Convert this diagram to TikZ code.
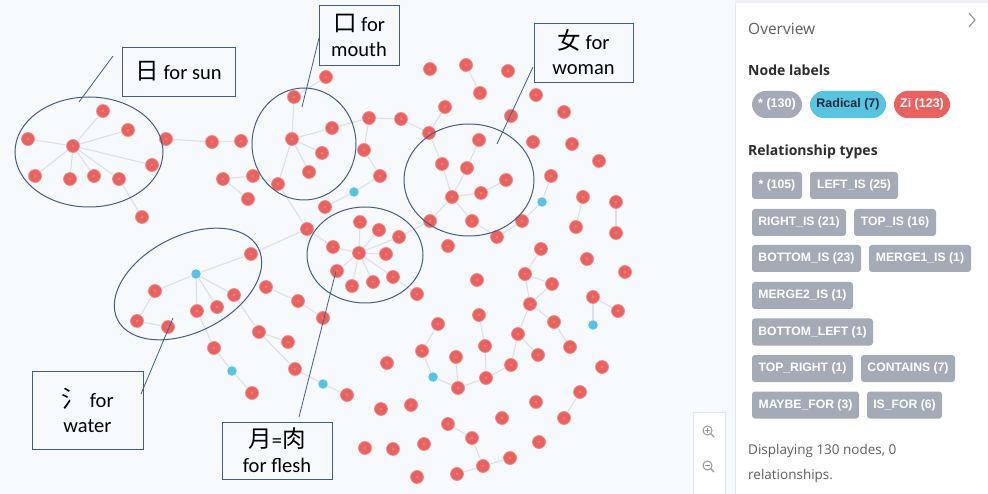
\documentclass[tikz,border=0pt]{standalone}
\usepackage{fontspec}
\setmainfont{Open Sans}
\newfontfamily\annfont{Carlito}
\newfontfamily\cjk{Noto Sans CJK SC}[Scale=1.15]
\newfontfamily\pillfont{Liberation Sans}
\usetikzlibrary{shapes.geometric,calc}
\definecolor{bgc}{RGB}{247,250,253}
\definecolor{zired}{RGB}{233,98,96}
\definecolor{zirim}{RGB}{241,140,138}
\definecolor{radblue}{RGB}{87,196,226}
\definecolor{edgec}{RGB}{220,224,230}
\definecolor{annot}{RGB}{68,92,134}
\definecolor{pillgrey}{RGB}{165,171,182}
\definecolor{txtgrey}{RGB}{95,95,95}
\definecolor{headc}{RGB}{45,45,45}
\definecolor{panelline}{RGB}{226,230,235}
\definecolor{radtext}{RGB}{40,44,56}
\begin{document}
\begin{tikzpicture}[x=1pt,y=-1pt,
  zi/.style={circle, fill=zired, draw=zirim, line width=0.8pt, minimum size=13pt, inner sep=0pt,
    path picture={\fill[white, opacity=0.7] (path picture bounding box.center) circle (0.6pt);}},
  rad/.style={circle, fill=radblue, draw=none, minimum size=9.5pt, inner sep=0pt},
  ed/.style={draw=edgec, line width=1.1pt},
  ann/.style={draw=annot, line width=0.8pt, align=center, font=\annfont\fontsize{20.5}{25}\selectfont, inner sep=0pt},
  ell/.style={ellipse, draw=annot, line width=1pt, inner sep=0pt},
  ptr/.style={draw=annot, line width=0.8pt},
  pill/.style={rounded corners=13.5pt, minimum height=27pt, inner sep=0pt, font=\pillfont\bfseries\fontsize{12.5}{14}\selectfont, text=white},
  rel/.style={rounded corners=3pt, fill=pillgrey, minimum height=27pt, inner sep=0pt, font=\pillfont\bfseries\fontsize{12.2}{14}\selectfont, text=white},
  ptxt/.style={anchor=west, inner sep=0pt}
]
\useasboundingbox (0,0) rectangle (988,494);
\fill[bgc] (0,0) rectangle (988,494);
% panel
\fill[panelline!60] (735,0) rectangle (988,3);
\fill[white] (735,3) rectangle (988,494);
\draw[panelline, line width=0.8pt] (735,3) -- (735,494);

% ---- sun cluster
\node[zi] (s0) at (73,146) {};
\node[zi] (s1) at (103,111) {};
\node[zi] (s2) at (128,130) {};
\node[zi] (s3) at (28,139) {};
\node[zi] (s4) at (35,176) {};
\node[zi] (s5) at (70,179) {};
\node[zi] (s6) at (94,176) {};
\node[zi] (s7) at (119,179) {};
\node[zi] (s8) at (152,165) {};
\node[zi] (s9) at (166,139) {};
\node[zi] (s10) at (142,217) {};
% ---- left middle
\node[zi] (m1) at (212,142) {};
\node[zi] (m2) at (241,141) {};
\node[zi] (m3) at (223,179) {};
\node[zi] (m4) at (253,176) {};
\node[zi] (m5) at (248,199) {};
\node[zi] (m6) at (278,184) {};
% ---- mouth
\node[zi] (k0) at (292,139) {};
\node[zi] (k1) at (294,97) {};
\node[zi] (k2) at (326,77) {};
\node[zi] (k3) at (332,128) {};
\node[zi] (k4) at (322,153) {};
\node[zi] (k5) at (309,172) {};
% ---- upper middle
\node[zi] (u1) at (369,118) {};
\node[zi] (u2) at (401,119) {};
\node[zi] (u3) at (364,150) {};
\node[zi] (u4) at (380,176) {};
\node[rad] (u5) at (354,192) {};
\node[zi] (u6) at (325,207) {};
\node[zi] (u7) at (307,229) {};
\node[zi] (u8) at (430,69) {};
\node[zi] (u9) at (466,65) {};
\node[zi] (u10) at (445,107) {};
\node[zi] (u11) at (429,133) {};
% ---- flesh
\node[zi] (f0) at (359,253) {};
\node[zi] (f1) at (333,247) {};
\node[zi] (f2) at (360,222) {};
\node[zi] (f3) at (379,230) {};
\node[zi] (f4) at (399,237) {};
\node[zi] (f5) at (386,254) {};
\node[zi] (f6) at (337,271) {};
\node[zi] (f7) at (352,286) {};
\node[zi] (f8) at (373,282) {};
\node[zi] (f9) at (393,277) {};
\node[zi] (f10) at (417,294) {};
\node[zi] (f11) at (448,246) {};
% ---- woman
\node[zi] (w1) at (479,140) {};
\node[zi] (w2) at (442,164) {};
\node[zi] (w3) at (467,168) {};
\node[zi] (w4) at (506,180) {};
\node[zi] (w5) at (452,197) {};
\node[zi] (w6) at (481,193) {};
\node[zi] (w7) at (430,221) {};
\node[zi] (w8) at (472,221) {};
\node[zi] (w9) at (522,221) {};
\node[zi] (w10) at (497,237) {};
\node[rad] (w11) at (542,202) {};
\node[zi] (w12) at (551,176) {};
% ---- upper right
\node[zi] (r1) at (508,71) {};
\node[zi] (r2) at (480,93) {};
\node[zi] (r3) at (536,95) {};
\node[zi] (r4) at (511,116) {};
\node[zi] (r5) at (564,112) {};
\node[zi] (r6) at (533,142) {};
\node[zi] (r7) at (572,144) {};
\node[zi] (r8) at (599,161) {};
\node[zi] (r9) at (583,197) {};
\node[zi] (r10) at (576,227) {};
\node[zi] (r11) at (616,202) {};
\node[zi] (r12) at (616,233) {};
\node[zi] (r13) at (541,249) {};
% ---- water
\node[rad] (a0) at (196,274) {};
\node[zi] (a1) at (155,291) {};
\node[zi] (a2) at (137,321) {};
\node[zi] (a3) at (168,327) {};
\node[zi] (a4) at (197,311) {};
\node[zi] (a5) at (217,307) {};
\node[zi] (a6) at (234,295) {};
\node[zi] (a7) at (251,254) {};
\node[zi] (a8) at (266,287) {};
\node[zi] (a9) at (298,301) {};
\node[zi] (a10) at (323,318) {};
\node[zi] (a11) at (259,332) {};
\node[zi] (a12) at (288,342) {};
\node[zi] (a13) at (214,348) {};
\node[rad] (a14) at (232,371) {};
\node[zi] (a15) at (252,393) {};
\node[zi] (a16) at (295,369) {};
\node[rad] (a17) at (323,384) {};
\node[zi] (a18) at (347,395) {};
% ---- bottom right
\node[zi] (b1) at (438,324) {};
\node[zi] (b2) at (479,315) {};
\node[zi] (b3) at (477,280) {};
\node[zi] (b4) at (525,274) {};
\node[zi] (b6) at (552,284) {};
\node[zi] (b7) at (530,304) {};
\node[zi] (b8) at (554,322) {};
\node[zi] (b9) at (570,347) {};
\node[zi] (b10) at (518,334) {};
\node[zi] (b11) at (538,355) {};
\node[zi] (b12) at (511,365) {};
\node[zi] (b13) at (485,346) {};
\node[zi] (b14) at (486,378) {};
\node[zi] (b15) at (458,388) {};
\node[zi] (b16) at (456,357) {};
\node[rad] (b17) at (433,377) {};
\node[zi] (b18) at (422,351) {};
\node[zi] (b19) at (387,363) {};
\node[zi] (b20) at (587,259) {};
\node[zi] (b21) at (625,272) {};
\node[zi] (b22) at (593,297) {};
\node[zi] (b23) at (618,311) {};
\node[rad] (b24) at (593,325) {};
\node[zi] (b25) at (602,367) {};
\node[zi] (b26) at (580,392) {};
\node[zi] (b27) at (564,418) {};
\node[zi] (b28) at (536,402) {};
\node[zi] (b29) at (502,418) {};
\node[zi] (b30) at (539,442) {};
\node[zi] (b31) at (448,424) {};
\node[zi] (b32) at (472,438) {};
\node[zi] (b33) at (483,466) {};
\node[zi] (b34) at (510,458) {};
\node[zi] (b35) at (457,474) {};
\node[zi] (b36) at (417,477) {};
\node[zi] (b37) at (381,409) {};
\node[zi] (b38) at (411,405) {};
\node[zi] (b39) at (365,448) {};
\node[zi] (b40) at (393,449) {};
\node[zi] (b41) at (424,444) {};

% ---- edges
\foreach \p/\q in {s0/s1,s0/s2,s0/s3,s0/s4,s0/s5,s0/s6,s0/s7,s0/s8,s7/s10,s9/m1,m1/m2,m3/m4,m3/m5,m4/m6,
  k0/k1,k1/k2,k0/k3,k0/k4,k0/k5,k0/m6,k3/u1,u1/u3,u1/u2,u2/u11,u11/u10,u11/w2,u3/u4,u4/u5,u5/u6,u7/m6,u7/f1,
  f0/f1,f0/f2,f0/f3,f0/f4,f0/f5,f0/f6,f0/f7,f0/f8,f0/f9,f9/f10,f4/w7,
  w5/w2,w5/w3,w5/w6,w5/w7,w5/w8,w6/w4,w3/w1,w8/w10,w10/w9,w9/w11,w11/w12,
  u9/r2,r9/r10,r11/r12,
  a0/a1,a0/a4,a0/a5,a0/a6,a0/a7,a1/a2,a2/a3,a4/a13,a13/a14,a14/a15,a6/a11,a11/a12,a11/a16,a16/a17,a17/a18,a8/a9,a9/a10,a7/u7,
  r13/b4,b4/b6,b4/b7,b7/b6,b7/b8,b8/b9,b7/b10,b10/b11,b10/b12,b12/b14,b14/b13,b13/b2,b14/b15,b15/b16,b15/b17,b17/b18,b18/b1,
  b22/b23,b22/b24,b26/b27,b31/b32,b32/b33,b33/b34,b33/b35}
  \draw[ed] (\p) -- (\q);

% ---- annotations
\node[ell, minimum width=148pt, minimum height=110pt] (sunE) at (89,152) {};
\node[ell, minimum width=104pt, minimum height=112pt] (mouthE) at (304,144) {};
\node[ell, minimum width=130pt, minimum height=112pt] (womanE) at (469,180) {};
\node[ell, minimum width=116pt, minimum height=96pt] (fleshE) at (365,255) {};
\node[ell, minimum width=158pt, minimum height=96pt, rotate=27] (waterE) at (188,284) {};

\node[ann, minimum width=113pt, minimum height=49pt] (sunB) at (178.5,71.5) {{\cjk 日} for sun};
\node[ann, minimum width=80pt, minimum height=60pt] (mouthB) at (359,35) {{\cjk 口} for\\mouth};
\node[ann, minimum width=99pt, minimum height=59pt] (womanB) at (583.5,52.5) {{\cjk 女} for\\woman};
\node[ann, minimum width=111pt, minimum height=78pt] (waterB) at (87.5,410) {{\cjk 氵}\hspace{5pt}for\\water};
\node[ann, minimum width=110pt, minimum height=57pt] (fleshB) at (277,450.5) {{\cjk 月}={\cjk 肉}\\for flesh};

\coordinate (sunP1) at (113,56);   \coordinate (sunP2) at (79,102);
\coordinate (mouthP1) at (319,38); \coordinate (mouthP2) at (302,107);
\coordinate (womanP1) at (533,67); \coordinate (womanP2) at (497,144);
\coordinate (waterP1) at (141,394); \coordinate (waterP2) at (173,318);
\coordinate (fleshP1) at (299,417); \coordinate (fleshP2) at (336,271);
\draw[ptr] (sunP1) -- (sunP2);
\draw[ptr] (mouthP1) -- (mouthP2);
\draw[ptr] (womanP1) -- (womanP2);
\draw[ptr] (waterP1) -- (waterP2);
\draw[ptr] (fleshP1) -- (fleshP2);

% ---- zoom buttons
\node[draw=panelline, fill=white, line width=0.8pt, minimum width=32pt, minimum height=82pt, inner sep=0pt] (zoomBox) at (709,453) {};
\coordinate (zin) at (707.5,430.5);
\coordinate (zout) at (707.5,465.5);
\draw[gray!80, line width=1pt] (zin) circle (4.5pt);
\draw[gray!80, line width=1.2pt] ($(zin)+(3.2,3.2)$) -- ($(zin)+(6.5,6.5)$);
\draw[gray!80, line width=0.8pt] ($(zin)+(-2.2,0)$) -- ($(zin)+(2.2,0)$) ($(zin)+(0,-2.2)$) -- ($(zin)+(0,2.2)$);
\draw[gray!80, line width=1pt] (zout) circle (4.5pt);
\draw[gray!80, line width=1.2pt] ($(zout)+(3.2,3.2)$) -- ($(zout)+(6.5,6.5)$);
\draw[gray!80, line width=0.8pt] ($(zout)+(-2.2,0)$) -- ($(zout)+(2.2,0)$);

% ---- panel text
\node[ptxt, text=txtgrey, font=\fontsize{15.5}{18}\selectfont] (ovw) at (748,29) {Overview};
\coordinate (chevA) at (969,13); \coordinate (chevB) at (975,20); \coordinate (chevC) at (969,27);
\draw[gray!90, line width=1pt] (chevA) -- (chevB) -- (chevC);
\node[ptxt, text=headc, font=\bfseries\fontsize{14}{16}\selectfont] (nlab) at (748,70) {Node labels};
\node[pill, fill=pillgrey, minimum width=50pt] (p1) at (777,104.5) {* (130)};
\node[pill, fill=radblue, minimum width=76pt, text=radtext] (p2) at (848,104.5) {Radical (7)};
\node[pill, fill=zired, minimum width=56pt] (p3) at (922,104.5) {Zi (123)};
\node[ptxt, text=headc, font=\bfseries\fontsize{14}{16}\selectfont] (rlab) at (748,152) {Relationship types};
\node[rel, minimum width=50pt] (r1b) at (777,185.5) {* (105)};
\node[rel, minimum width=88pt] (r2b) at (854,185.5) {LEFT\_IS (25)};
\node[rel, minimum width=94pt] (r3b) at (799,222.5) {RIGHT\_IS (21)};
\node[rel, minimum width=82pt] (r4b) at (895,222.5) {TOP\_IS (16)};
\node[rel, minimum width=109pt] (r5b) at (806.5,258.5) {BOTTOM\_IS (23)};
\node[rel, minimum width=102pt] (r6b) at (920,258.5) {MERGE1\_IS (1)};
\node[rel, minimum width=101pt] (r7b) at (802.5,295.5) {MERGE2\_IS (1)};
\node[rel, minimum width=121pt] (r8b) at (812.5,332) {BOTTOM\_LEFT (1)};
\node[rel, minimum width=101pt] (r9b) at (802.5,368.5) {TOP\_RIGHT (1)};
\node[rel, minimum width=94pt] (r10b) at (908,368.5) {CONTAINS (7)};
\node[rel, minimum width=107pt] (r11b) at (805.5,405) {MAYBE\_FOR (3)};
\node[rel, minimum width=75pt] (r12b) at (904.5,405) {IS\_FOR (6)};
\node[ptxt, text=txtgrey, font=\fontsize{13.5}{16}\selectfont] (disp1) at (748,451) {Displaying 130 nodes, 0};
\node[ptxt, text=txtgrey, font=\fontsize{13.5}{16}\selectfont] (disp2) at (748,476) {relationships.};
\end{tikzpicture}
\end{document}
